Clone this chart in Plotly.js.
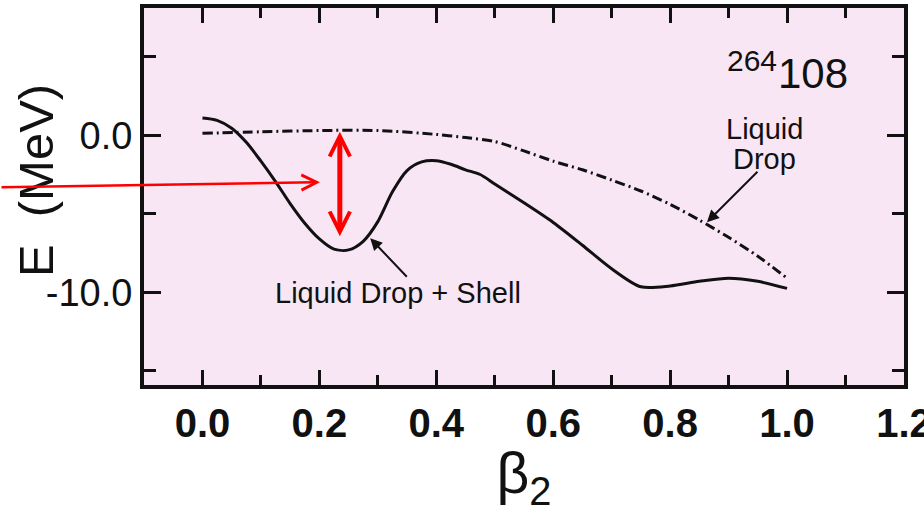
<!DOCTYPE html>
<html>
<head>
<meta charset="utf-8">
<script src="https://cdn.plot.ly/plotly-3.0.1.min.js"></script>
<style>
  html, body { margin: 0; padding: 0; background: #ffffff; }
  #chart { width: 924px; height: 513px; }
</style>
</head>
<body>
<div id="chart"></div>
<script>
// Liquid Drop + Shell (solid)
const betaShell = [0, 0.025, 0.05, 0.075, 0.1, 0.125, 0.15, 0.175, 0.2, 0.225, 0.25, 0.275, 0.3, 0.325, 0.35, 0.375, 0.4, 0.425, 0.45, 0.475, 0.5, 0.55, 0.6, 0.65, 0.7, 0.75, 0.8, 0.85, 0.9, 0.95, 1.0];
const energyShell = [1.1, 0.95, 0.45, -0.45, -1.65, -2.95, -4.35, -5.6, -6.6, -7.25, -7.3, -6.75, -5.5, -3.6, -2.25, -1.7, -1.62, -1.85, -2.2, -2.5, -3.1, -4.3, -5.55, -7.0, -8.5, -9.65, -9.6, -9.3, -9.1, -9.3, -9.75];

// Liquid Drop (dash-dot)
const betaLD = [0, 0.1, 0.2, 0.3, 0.4, 0.45, 0.5, 0.55, 0.6, 0.65, 0.7, 0.75, 0.8, 0.85, 0.9, 0.95, 1.0];
const energyLD = [0.12, 0.22, 0.3, 0.3, 0.05, -0.15, -0.4, -1.0, -1.65, -2.2, -2.85, -3.55, -4.4, -5.4, -6.5, -7.7, -9.1];

// Tick labels
const xTickVals = [0, 0.2, 0.4, 0.6, 0.8, 1.0, 1.2];
const xTickText = ['0.0', '0.2', '0.4', '0.6', '0.8', '1.0', '1.2'];
const yTickVals = [0, -10];
const yTickText = ['0.0', '-10.0'];

// Titles and annotation texts
const xTitle = 'β<sub>2</sub>';
const yTitle = 'E\u00a0\u00a0(MeV)';
const labelShell = 'Liquid Drop + Shell';
const labelLD1 = 'Liquid';
const labelLD2 = 'Drop';
const massNumber = '264';
const elementZ = '108';

const traces = [
  {
    x: betaLD, y: energyLD, type: 'scatter', mode: 'lines', name: 'Liquid Drop',
    line: { color: '#111111', width: 3, dash: '10px,4px,2px,4px', shape: 'spline', smoothing: 0.8 },
    hoverinfo: 'skip'
  },
  {
    x: betaShell, y: energyShell, type: 'scatter', mode: 'lines', name: 'Liquid Drop + Shell',
    line: { color: '#111111', width: 3, shape: 'spline', smoothing: 0.8 },
    hoverinfo: 'skip'
  }
];

const textFont = { family: 'Liberation Sans, Arial, sans-serif', size: 29, color: '#111111' };

const layout = {
  width: 924, height: 513,
  margin: { l: 144, r: 20, t: 8, b: 128 },
  paper_bgcolor: '#ffffff',
  plot_bgcolor: '#f8e6f5',
  showlegend: false,
  xaxis: {
    range: [-0.1, 1.2001],
    tickmode: 'array', tickvals: xTickVals, ticktext: xTickText,
    ticks: 'inside', ticklen: 15, tickwidth: 3, tickcolor: '#111111',
    minor: { tickmode: 'linear', tick0: 0, dtick: 0.1, ticks: 'inside', ticklen: 10, tickwidth: 3, tickcolor: '#111111', showgrid: false },
    showline: true, linewidth: 4, linecolor: '#111111', mirror: 'ticks',
    showgrid: false, zeroline: false,
    tickfont: { family: 'Liberation Sans, Arial, sans-serif', size: 40, weight: 'bold', color: '#111111' },
    ticklabelstandoff: 0,
    ticklabeloverflow: 'allow',
    title: { text: xTitle, font: { family: 'Liberation Sans, Arial, sans-serif', size: 57, color: '#111111' }, standoff: 2 }
  },
  yaxis: {
    range: [-15.9, 8.1],
    tickmode: 'array', tickvals: yTickVals, ticktext: yTickText,
    ticks: 'inside', ticklen: 17, tickwidth: 3, tickcolor: '#111111',
    minor: { tickmode: 'linear', tick0: 0, dtick: 5, ticks: 'inside', ticklen: 12, tickwidth: 3, tickcolor: '#111111', showgrid: false },
    showline: true, linewidth: 4, linecolor: '#111111', mirror: 'ticks',
    showgrid: false, zeroline: false,
    tickfont: { family: 'Liberation Sans, Arial, sans-serif', size: 38, color: '#111111' },
    ticklabeloverflow: 'allow'
  },
  annotations: [
    // y-axis title (placed as rotated text)
    { x: -0.142, y: 0.541, xref: 'paper', yref: 'paper', text: yTitle, textangle: -90, showarrow: false,
      xanchor: 'center', yanchor: 'middle', font: { family: 'Liberation Sans, Arial, sans-serif', size: 49, color: '#111111' } },
    { x: 0.12, y: -10.06, xref: 'x', yref: 'y', text: labelShell, showarrow: false, xanchor: 'left', yanchor: 'middle', font: textFont },
    { x: 0.962, y: 0.38, xref: 'x', yref: 'y', text: labelLD1, showarrow: false, xanchor: 'center', yanchor: 'middle', font: textFont },
    { x: 0.962, y: -1.53, xref: 'x', yref: 'y', text: labelLD2, showarrow: false, xanchor: 'center', yanchor: 'middle', font: textFont },
    { x: 0.94, y: 4.75, xref: 'x', yref: 'y', text: massNumber, showarrow: false, xanchor: 'center', yanchor: 'middle',
      font: { family: 'Liberation Sans, Arial, sans-serif', size: 30, color: '#111111' } },
    { x: 1.045, y: 3.95, xref: 'x', yref: 'y', text: elementZ, showarrow: false, xanchor: 'center', yanchor: 'middle',
      font: { family: 'Liberation Sans, Arial, sans-serif', size: 42, color: '#111111' } },
    // black pointer arrows
    { x: 0.863, y: -5.54, xref: 'x', yref: 'y', text: '', showarrow: true, ax: 52, ay: -52,
      arrowhead: 2, arrowsize: 1.2, arrowwidth: 2, arrowcolor: '#111111' },
    { x: 0.287, y: -6.56, xref: 'x', yref: 'y', text: '', showarrow: true, ax: 38, ay: 40,
      arrowhead: 2, arrowsize: 1.2, arrowwidth: 2, arrowcolor: '#111111' },
    // red arrows
    { x: 0.201, y: -2.99, xref: 'x', yref: 'y', text: '', showarrow: true, ax: -320, ay: 5,
      arrowhead: 5, arrowsize: 1.2, arrowwidth: 2.5, arrowcolor: '#ff0000' },
    { x: 0.235, y: -6.43, xref: 'x', yref: 'y', text: '', showarrow: true, axref: 'x', ayref: 'y', ax: 0.235, ay: 0.32,
      arrowside: 'end+start', arrowhead: 5, startarrowhead: 5, arrowsize: 0.8, startarrowsize: 0.8, arrowwidth: 5, arrowcolor: '#ff0000' }
  ]
};

Plotly.newPlot('chart', traces, layout, { staticPlot: true, displayModeBar: false });
</script>
</body>
</html>
